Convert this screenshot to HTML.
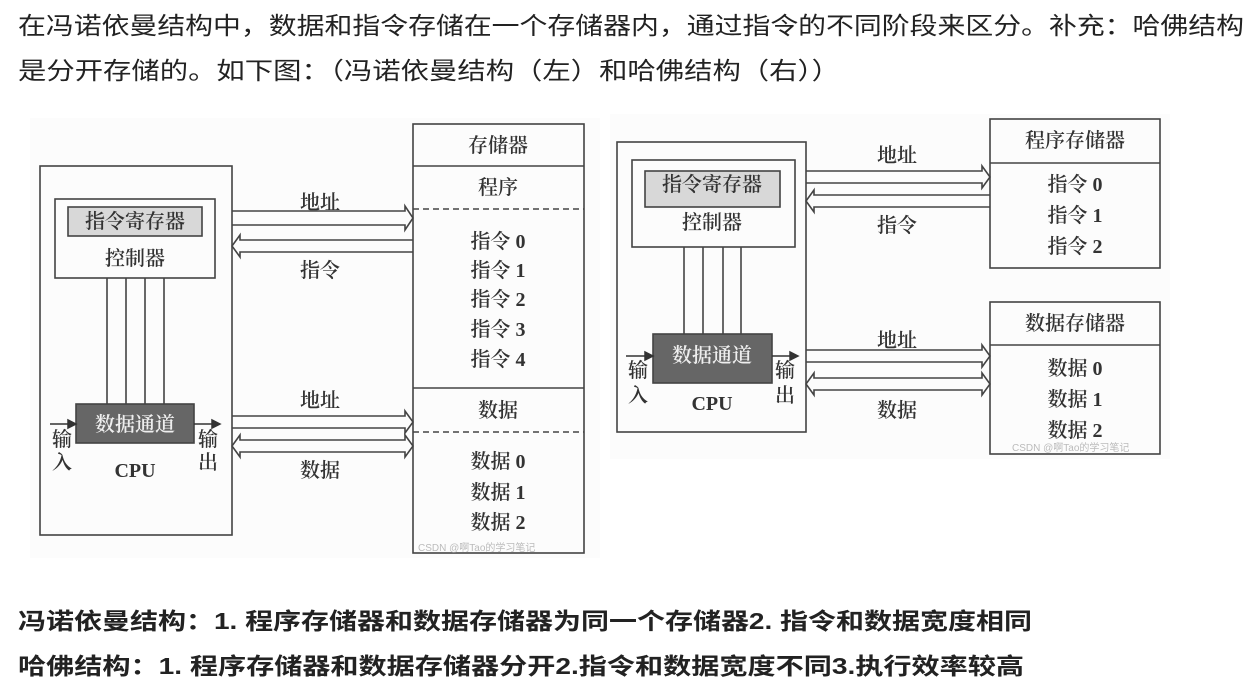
<!DOCTYPE html>
<html><head><meta charset="utf-8"><style>
body{margin:0;background:#fff;}
svg{display:block}
text{font-family:"Liberation Serif","Noto Serif CJK SC",serif;fill:#333;}
.p{font-family:"Liberation Sans","Noto Sans CJK SC",sans-serif;font-size:24px;fill:#222;}
.b{font-family:"Liberation Sans","Noto Sans CJK SC",sans-serif;font-size:23px;font-weight:bold;fill:#222;}
.d{font-size:20px;text-anchor:middle;font-weight:600;}
</style></head><body>
<svg width="1259" height="690" viewBox="0 0 1259 690" xmlns="http://www.w3.org/2000/svg">
<text class="p" x="18" y="34" textLength="1226" lengthAdjust="spacingAndGlyphs">在冯诺依曼结构中，数据和指令存储在一个存储器内，通过指令的不同阶段来区分。补充：哈佛结构</text>
<text class="p" x="18" y="79" textLength="822" lengthAdjust="spacingAndGlyphs">是分开存储的。如下图：（冯诺依曼结构（左）和哈佛结构（右））</text>

<rect x="30" y="118" width="570" height="440" fill="#fcfcfc"/>
<rect x="610" y="114" width="560" height="345" fill="#fcfcfc"/>

<g fill="none" stroke="#444" stroke-width="1.6">
<rect x="40" y="166" width="192" height="369"/>
<rect x="55" y="199" width="160" height="79"/>
<rect x="68" y="207" width="134" height="29" fill="#d8d8d8"/>
<line x1="107" y1="278" x2="107" y2="404"/><line x1="126" y1="278" x2="126" y2="404"/>
<line x1="145" y1="278" x2="145" y2="404"/><line x1="164" y1="278" x2="164" y2="404"/>
<rect x="76" y="404" width="118" height="39" fill="#666"/>
<rect x="413" y="124" width="171" height="429"/>
<line x1="413" y1="166" x2="584" y2="166"/>
<line x1="413" y1="388" x2="584" y2="388"/>
<line x1="413" y1="209" x2="584" y2="209" stroke-dasharray="6,4"/>
<line x1="413" y1="432" x2="584" y2="432" stroke-dasharray="6,4"/>
<path d="M232 211 L405 211 L405 206 L413 218 L405 230 L405 225 L232 225"/>
<path d="M413 240 L240 240 L240 235 L232 246 L240 257 L240 252 L413 252"/>
<path d="M232 416 L405 416 L405 411 L413 422 L405 433 L405 428 L232 428"/>
<path d="M240 440 L405 440 L405 435 L413 446 L405 457 L405 452 L240 452 L240 457 L232 446 L240 435 Z"/>
<rect x="617" y="142" width="189" height="290"/>
<rect x="632" y="160" width="163" height="87"/>
<rect x="645" y="171" width="135" height="36" fill="#d8d8d8"/>
<line x1="684" y1="247" x2="684" y2="334"/><line x1="703" y1="247" x2="703" y2="334"/>
<line x1="723" y1="247" x2="723" y2="334"/><line x1="741" y1="247" x2="741" y2="334"/>
<rect x="653" y="334" width="119" height="49" fill="#666"/>
<rect x="990" y="119" width="170" height="149"/>
<line x1="990" y1="163" x2="1160" y2="163"/>
<rect x="990" y="302" width="170" height="152"/>
<line x1="990" y1="345" x2="1160" y2="345"/>
<path d="M806 171 L982 171 L982 166 L990 177 L982 188 L982 183 L806 183"/>
<path d="M990 195 L814 195 L814 190 L806 201 L814 212 L814 207 L990 207"/>
<path d="M806 350 L982 350 L982 345 L990 356 L982 367 L982 362 L806 362"/>
<path d="M814 378 L982 378 L982 373 L990 384 L982 395 L982 390 L814 390 L814 395 L806 384 L814 373 Z"/>
</g>
<g stroke="#333" stroke-width="1.5" fill="#333">
<line x1="50" y1="424" x2="70" y2="424"/><path d="M76 424 L68 420 L68 428Z"/>
<line x1="194" y1="424" x2="214" y2="424"/><path d="M220 424 L212 420 L212 428Z"/>
<line x1="626" y1="356" x2="647" y2="356"/><path d="M653 356 L645 352 L645 360Z"/>
<line x1="772" y1="356" x2="792" y2="356"/><path d="M798 356 L790 352 L790 360Z"/>
</g>

<text class="d" x="135" y="228">指令寄存器</text>
<text class="d" x="135" y="265">控制器</text>
<text class="d" x="135" y="431" style="fill:#eee">数据通道</text>
<text class="d" x="135" y="477" style="font-weight:bold">CPU</text>
<text class="d" x="62" y="446">输</text><text class="d" x="62" y="469">入</text>
<text class="d" x="208" y="446">输</text><text class="d" x="208" y="469">出</text>
<text class="d" x="320" y="209">地址</text>
<text class="d" x="320" y="277">指令</text>
<text class="d" x="320" y="407">地址</text>
<text class="d" x="320" y="477">数据</text>
<text class="d" x="498" y="152">存储器</text>
<text class="d" x="498" y="194">程序</text>
<text class="d" x="498" y="248">指令 0</text>
<text class="d" x="498" y="277">指令 1</text>
<text class="d" x="498" y="306">指令 2</text>
<text class="d" x="498" y="336">指令 3</text>
<text class="d" x="498" y="366">指令 4</text>
<text class="d" x="498" y="417">数据</text>
<text class="d" x="498" y="468">数据 0</text>
<text class="d" x="498" y="499">数据 1</text>
<text class="d" x="498" y="529">数据 2</text>
<text x="418" y="551" style="font-family:'Liberation Sans','Noto Sans CJK SC',sans-serif;font-size:10px;fill:#bbb">CSDN @啊Tao的学习笔记</text>

<text class="d" x="712" y="191">指令寄存器</text>
<text class="d" x="712" y="229">控制器</text>
<text class="d" x="712" y="362" style="fill:#eee">数据通道</text>
<text class="d" x="712" y="410" style="font-weight:bold">CPU</text>
<text class="d" x="638" y="377">输</text><text class="d" x="638" y="402">入</text>
<text class="d" x="785" y="377">输</text><text class="d" x="785" y="402">出</text>
<text class="d" x="897" y="162">地址</text>
<text class="d" x="897" y="232">指令</text>
<text class="d" x="897" y="347">地址</text>
<text class="d" x="897" y="417">数据</text>
<text class="d" x="1075" y="147">程序存储器</text>
<text class="d" x="1075" y="191">指令 0</text>
<text class="d" x="1075" y="222">指令 1</text>
<text class="d" x="1075" y="253">指令 2</text>
<text class="d" x="1075" y="330">数据存储器</text>
<text class="d" x="1075" y="375">数据 0</text>
<text class="d" x="1075" y="406">数据 1</text>
<text class="d" x="1075" y="437">数据 2</text>
<text x="1012" y="451" style="font-family:'Liberation Sans','Noto Sans CJK SC',sans-serif;font-size:10px;fill:#bbb">CSDN @啊Tao的学习笔记</text>

<text class="b" x="18" y="629" textLength="1014" lengthAdjust="spacingAndGlyphs">冯诺依曼结构：1. 程序存储器和数据存储器为同一个存储器2. 指令和数据宽度相同</text>
<text class="b" x="18" y="674" textLength="1006" lengthAdjust="spacingAndGlyphs">哈佛结构：1. 程序存储器和数据存储器分开2.指令和数据宽度不同3.执行效率较高</text>
</svg>
</body></html>
